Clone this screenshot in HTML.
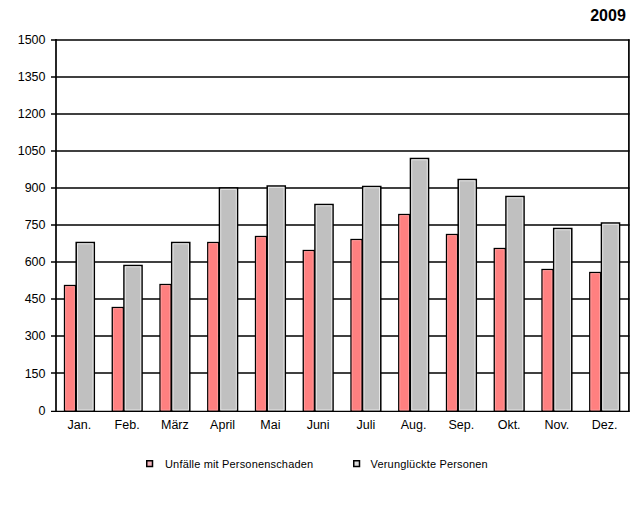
<!DOCTYPE html>
<html><head><meta charset="utf-8"><style>
html,body{margin:0;padding:0;background:#fff;width:640px;height:508px;overflow:hidden}
svg{display:block}
text{font-family:"Liberation Sans",sans-serif;fill:#000}
.ax{font-size:12.5px}
.lg{font-size:11px;letter-spacing:0.17px}
.ti{font-size:16px;font-weight:bold}
</style></head><body>
<svg width="640" height="508" viewBox="0 0 640 508">
<rect width="640" height="508" fill="#fff"/>
<line x1="51" y1="40" x2="629.5" y2="40" stroke="#000" stroke-width="1.6"/><line x1="51" y1="77" x2="629.5" y2="77" stroke="#000" stroke-width="1.6"/><line x1="51" y1="114" x2="629.5" y2="114" stroke="#000" stroke-width="1.6"/><line x1="51" y1="151" x2="629.5" y2="151" stroke="#000" stroke-width="1.6"/><line x1="51" y1="188" x2="629.5" y2="188" stroke="#000" stroke-width="1.6"/><line x1="51" y1="225" x2="629.5" y2="225" stroke="#000" stroke-width="1.6"/><line x1="51" y1="262" x2="629.5" y2="262" stroke="#000" stroke-width="1.6"/><line x1="51" y1="299" x2="629.5" y2="299" stroke="#000" stroke-width="1.6"/><line x1="51" y1="336" x2="629.5" y2="336" stroke="#000" stroke-width="1.6"/><line x1="51" y1="373" x2="629.5" y2="373" stroke="#000" stroke-width="1.6"/><line x1="51" y1="411.3" x2="629.5" y2="411.3" stroke="#000" stroke-width="1.3"/>
<rect x="64.50" y="285.50" width="11.00" height="125.50" fill="#FF8080" stroke="#000" stroke-width="1.3"/><rect x="76.20" y="242.50" width="18.10" height="168.50" fill="#C0C0C0" stroke="#000" stroke-width="1.5"/><rect x="77.50" y="243.80" width="15.50" height="166.20" fill="none" stroke="#EBEBEB" stroke-width="0.9"/><rect x="65.70" y="286.70" width="8.60" height="123.30" fill="none" stroke="#FFA0A0" stroke-width="0.8"/><rect x="112.25" y="307.50" width="11.00" height="103.50" fill="#FF8080" stroke="#000" stroke-width="1.3"/><rect x="123.95" y="265.50" width="18.10" height="145.50" fill="#C0C0C0" stroke="#000" stroke-width="1.5"/><rect x="125.25" y="266.80" width="15.50" height="143.20" fill="none" stroke="#EBEBEB" stroke-width="0.9"/><rect x="113.45" y="308.70" width="8.60" height="101.30" fill="none" stroke="#FFA0A0" stroke-width="0.8"/><rect x="160.00" y="284.50" width="11.00" height="126.50" fill="#FF8080" stroke="#000" stroke-width="1.3"/><rect x="171.70" y="242.50" width="18.10" height="168.50" fill="#C0C0C0" stroke="#000" stroke-width="1.5"/><rect x="173.00" y="243.80" width="15.50" height="166.20" fill="none" stroke="#EBEBEB" stroke-width="0.9"/><rect x="161.20" y="285.70" width="8.60" height="124.30" fill="none" stroke="#FFA0A0" stroke-width="0.8"/><rect x="207.75" y="242.50" width="11.00" height="168.50" fill="#FF8080" stroke="#000" stroke-width="1.3"/><rect x="219.45" y="188.00" width="18.10" height="223.00" fill="#C0C0C0" stroke="#000" stroke-width="1.5"/><rect x="220.75" y="189.30" width="15.50" height="220.70" fill="none" stroke="#EBEBEB" stroke-width="0.9"/><rect x="208.95" y="243.70" width="8.60" height="166.30" fill="none" stroke="#FFA0A0" stroke-width="0.8"/><rect x="255.50" y="236.50" width="11.00" height="174.50" fill="#FF8080" stroke="#000" stroke-width="1.3"/><rect x="267.20" y="186.00" width="18.10" height="225.00" fill="#C0C0C0" stroke="#000" stroke-width="1.5"/><rect x="268.50" y="187.30" width="15.50" height="222.70" fill="none" stroke="#EBEBEB" stroke-width="0.9"/><rect x="256.70" y="237.70" width="8.60" height="172.30" fill="none" stroke="#FFA0A0" stroke-width="0.8"/><rect x="303.25" y="250.50" width="11.00" height="160.50" fill="#FF8080" stroke="#000" stroke-width="1.3"/><rect x="314.95" y="204.50" width="18.10" height="206.50" fill="#C0C0C0" stroke="#000" stroke-width="1.5"/><rect x="316.25" y="205.80" width="15.50" height="204.20" fill="none" stroke="#EBEBEB" stroke-width="0.9"/><rect x="304.45" y="251.70" width="8.60" height="158.30" fill="none" stroke="#FFA0A0" stroke-width="0.8"/><rect x="351.00" y="239.50" width="11.00" height="171.50" fill="#FF8080" stroke="#000" stroke-width="1.3"/><rect x="362.70" y="186.50" width="18.10" height="224.50" fill="#C0C0C0" stroke="#000" stroke-width="1.5"/><rect x="364.00" y="187.80" width="15.50" height="222.20" fill="none" stroke="#EBEBEB" stroke-width="0.9"/><rect x="352.20" y="240.70" width="8.60" height="169.30" fill="none" stroke="#FFA0A0" stroke-width="0.8"/><rect x="398.75" y="214.50" width="11.00" height="196.50" fill="#FF8080" stroke="#000" stroke-width="1.3"/><rect x="410.45" y="158.50" width="18.10" height="252.50" fill="#C0C0C0" stroke="#000" stroke-width="1.5"/><rect x="411.75" y="159.80" width="15.50" height="250.20" fill="none" stroke="#EBEBEB" stroke-width="0.9"/><rect x="399.95" y="215.70" width="8.60" height="194.30" fill="none" stroke="#FFA0A0" stroke-width="0.8"/><rect x="446.50" y="234.50" width="11.00" height="176.50" fill="#FF8080" stroke="#000" stroke-width="1.3"/><rect x="458.20" y="179.50" width="18.10" height="231.50" fill="#C0C0C0" stroke="#000" stroke-width="1.5"/><rect x="459.50" y="180.80" width="15.50" height="229.20" fill="none" stroke="#EBEBEB" stroke-width="0.9"/><rect x="447.70" y="235.70" width="8.60" height="174.30" fill="none" stroke="#FFA0A0" stroke-width="0.8"/><rect x="494.25" y="248.50" width="11.00" height="162.50" fill="#FF8080" stroke="#000" stroke-width="1.3"/><rect x="505.95" y="196.50" width="18.10" height="214.50" fill="#C0C0C0" stroke="#000" stroke-width="1.5"/><rect x="507.25" y="197.80" width="15.50" height="212.20" fill="none" stroke="#EBEBEB" stroke-width="0.9"/><rect x="495.45" y="249.70" width="8.60" height="160.30" fill="none" stroke="#FFA0A0" stroke-width="0.8"/><rect x="542.00" y="269.50" width="11.00" height="141.50" fill="#FF8080" stroke="#000" stroke-width="1.3"/><rect x="553.70" y="228.50" width="18.10" height="182.50" fill="#C0C0C0" stroke="#000" stroke-width="1.5"/><rect x="555.00" y="229.80" width="15.50" height="180.20" fill="none" stroke="#EBEBEB" stroke-width="0.9"/><rect x="543.20" y="270.70" width="8.60" height="139.30" fill="none" stroke="#FFA0A0" stroke-width="0.8"/><rect x="589.75" y="272.50" width="11.00" height="138.50" fill="#FF8080" stroke="#000" stroke-width="1.3"/><rect x="601.45" y="223.00" width="18.10" height="188.00" fill="#C0C0C0" stroke="#000" stroke-width="1.5"/><rect x="602.75" y="224.30" width="15.50" height="185.70" fill="none" stroke="#EBEBEB" stroke-width="0.9"/><rect x="590.95" y="273.70" width="8.60" height="136.30" fill="none" stroke="#FFA0A0" stroke-width="0.8"/>
<line x1="56" y1="39" x2="56" y2="412" stroke="#000" stroke-width="1.7"/><line x1="628.9" y1="39.2" x2="628.9" y2="412" stroke="#000" stroke-width="1.7"/>
<text x="45.5" y="43.60" text-anchor="end" class="ax">1500</text><text x="45.5" y="80.70" text-anchor="end" class="ax">1350</text><text x="45.5" y="117.80" text-anchor="end" class="ax">1200</text><text x="45.5" y="154.90" text-anchor="end" class="ax">1050</text><text x="45.5" y="192.00" text-anchor="end" class="ax">900</text><text x="45.5" y="229.10" text-anchor="end" class="ax">750</text><text x="45.5" y="266.20" text-anchor="end" class="ax">600</text><text x="45.5" y="303.30" text-anchor="end" class="ax">450</text><text x="45.5" y="340.40" text-anchor="end" class="ax">300</text><text x="45.5" y="377.50" text-anchor="end" class="ax">150</text><text x="45.5" y="414.60" text-anchor="end" class="ax">0</text><text x="79.38" y="429" text-anchor="middle" class="ax">Jan.</text><text x="127.12" y="429" text-anchor="middle" class="ax">Feb.</text><text x="174.88" y="429" text-anchor="middle" class="ax">März</text><text x="222.62" y="429" text-anchor="middle" class="ax">April</text><text x="270.38" y="429" text-anchor="middle" class="ax">Mai</text><text x="318.12" y="429" text-anchor="middle" class="ax">Juni</text><text x="365.88" y="429" text-anchor="middle" class="ax">Juli</text><text x="413.62" y="429" text-anchor="middle" class="ax">Aug.</text><text x="461.38" y="429" text-anchor="middle" class="ax">Sep.</text><text x="509.12" y="429" text-anchor="middle" class="ax">Okt.</text><text x="556.88" y="429" text-anchor="middle" class="ax">Nov.</text><text x="604.62" y="429" text-anchor="middle" class="ax">Dez.</text>
<text x="625.8" y="20.7" text-anchor="end" class="ti">2009</text>
<rect x="146.75" y="460.75" width="5.75" height="5.75" fill="#F2B4BC" stroke="#000" stroke-width="1.5"/>
<text x="165" y="467.55" class="lg">Unfälle mit Personenschaden</text>
<rect x="353.75" y="460.75" width="5.75" height="5.75" fill="#DCDCDC" stroke="#000" stroke-width="1.5"/>
<text x="370.6" y="467.55" class="lg">Verunglückte Personen</text>
</svg>
</body></html>
